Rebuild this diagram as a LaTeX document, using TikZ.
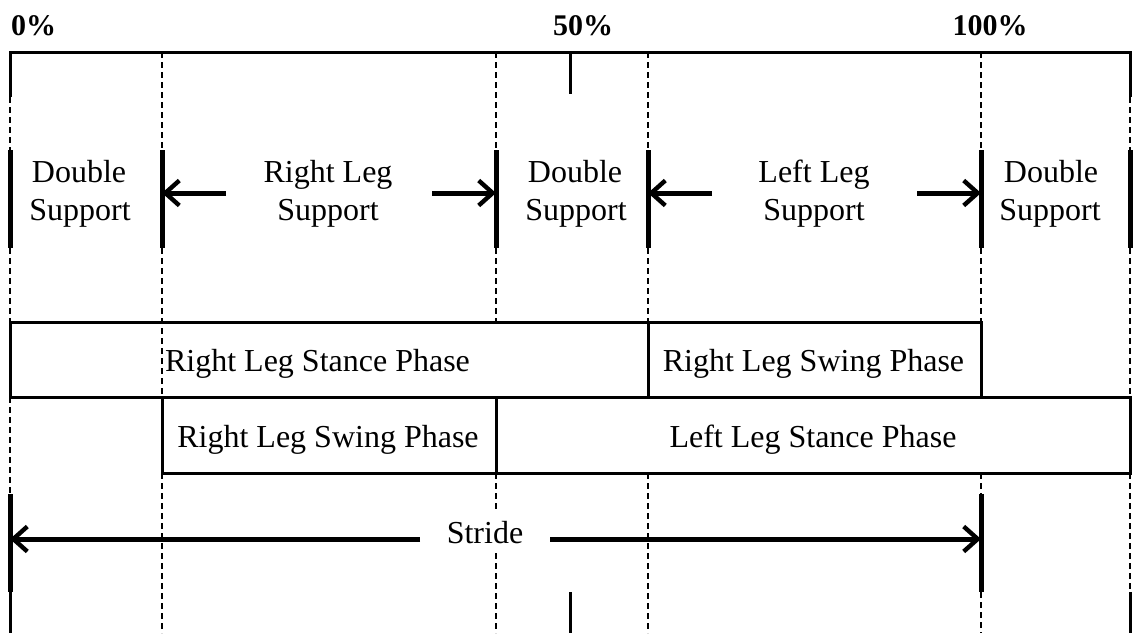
\documentclass[tikz,border=0pt]{standalone}
\usepackage{fontspec}
\setmainfont{Liberation Serif}
\usetikzlibrary{arrows.meta}
\begin{document}
\begin{tikzpicture}[x=1pt,y=-1pt,
  solidline/.style={line width=3pt, line cap=butt},
  bar/.style={line width=5pt, line cap=butt},
  dline/.style={line width=1.2pt, dash pattern=on 6pt off 4pt},
  arr/.style={line width=5pt, line cap=butt, -{Straight Barb[length=14pt,width=25pt,line width=4.4pt]}},
  lbl/.style={anchor=base, inner sep=0pt, font=\fontsize{32}{38}\selectfont},
  pct/.style={anchor=base, inner sep=0pt, font=\fontsize{30}{36}\selectfont\bfseries},
  phasebox/.style={draw, line width=3pt, inner sep=0pt, outer sep=0pt}
]
\useasboundingbox (0,0) rectangle (1133,633);

% ---------- percent labels ----------
\node[pct, anchor=base west] (p0) at (11,35) {0\%};
\node[pct] (p50) at (583,35) {50\%};
\node[pct] (p100) at (990,35) {100\%};

% ---------- top scale ----------
\coordinate (tl) at (10,97);
\coordinate (tlc) at (10,52);
\coordinate (trc) at (1130,52);
\coordinate (tr) at (1130,97);
\draw[solidline, line join=miter] (tl) -- (tlc) -- (trc) -- (tr);
\coordinate (mt1) at (570,52);
\coordinate (mt2) at (570,94);
\draw[solidline] (mt1) -- (mt2);

% ---------- bottom scale ticks ----------
\coordinate (bl1) at (10,592);  \coordinate (bl2) at (10,633);
\coordinate (bm1) at (570,592); \coordinate (bm2) at (570,633);
\coordinate (br1) at (1130,592);\coordinate (br2) at (1130,633);
\draw[solidline] (bl1) -- (bl2);
\draw[solidline] (bm1) -- (bm2);
\draw[solidline] (br1) -- (br2);

% ---------- dashed guide lines ----------
\draw[dline] (10,97) -- (10,150);
\draw[dline] (10,248) -- (10,322);
\draw[dline] (10,397) -- (10,495);

\draw[dline] (162,52) -- (162,150);
\draw[dline] (162,248) -- (162,397);
\draw[dline] (162,473) -- (162,633);

\draw[dline] (496,52) -- (496,150);
\draw[dline] (496,248) -- (496,322);
\draw[dline] (496,473) -- (496,633);

\draw[dline] (648,52) -- (648,150);
\draw[dline] (648,248) -- (648,322);
\draw[dline] (648,473) -- (648,633);

\draw[dline] (981,52) -- (981,150);
\draw[dline] (981,248) -- (981,322);
\draw[dline] (981,473) -- (981,494);
\draw[dline] (981,592) -- (981,633);

\draw[dline] (1130,97) -- (1130,150);
\draw[dline] (1130,248) -- (1130,397);
\draw[dline] (1130,473) -- (1130,592);

% ---------- thick bars (support phases) ----------
\foreach \n/\x in {a/10,b/162,c/496,d/648,e/981,f/1130}{
  \coordinate (bar\n t) at (\x,150);
  \coordinate (bar\n b) at (\x,248);
  \coordinate (bar\n m) at (\x,193);
  \draw[bar] (bar\n t) -- (bar\n b);
}

% ---------- support labels ----------
\node[lbl] (ds1a) at (79,182) {Double};
\node[lbl] (ds1b) at (80,220) {Support};
\node[lbl] (ds2a) at (575,182) {Double};
\node[lbl] (ds2b) at (576,220) {Support};
\node[lbl] (ds3a) at (1051,182) {Double};
\node[lbl] (ds3b) at (1050,220) {Support};

\node[lbl] (rlsa) at (328,182) {Right Leg};
\node[lbl] (rlsb) at (328,220) {Support};
\node[lbl] (llsa) at (814,182) {Left Leg};
\node[lbl] (llsb) at (814,220) {Support};

% ---------- support arrows ----------
\coordinate (ra1) at (226,193);
\coordinate (ra2) at (432,193);
\coordinate (la1) at (712,193);
\coordinate (la2) at (917,193);
\draw[arr] (ra1) -- (barbm);
\draw[arr] (ra2) -- (barcm);
\draw[arr] (la1) -- (bardm);
\draw[arr] (la2) -- (barem);

% ---------- phase boxes ----------
\node[phasebox, minimum width=638pt, minimum height=75pt] (rstance) at (329,359.5) {};
\node[phasebox, minimum width=333pt, minimum height=75pt] (rswing1) at (814.5,359.5) {};
\node[phasebox, minimum width=334pt, minimum height=76pt] (rswing2) at (329,435) {};
\node[phasebox, minimum width=634pt, minimum height=76pt] (lstance) at (813,435) {};

\node[lbl] (trst) at (317.5,371) {Right Leg Stance Phase};
\node[lbl] (trsw1) at (813.5,371) {Right Leg Swing Phase};
\node[lbl] (trsw2) at (328,447) {Right Leg Swing Phase};
\node[lbl] (tlst) at (813,447) {Left Leg Stance Phase};

% ---------- stride ----------
\coordinate (sat) at (10,494);  \coordinate (sab) at (10,592);
\coordinate (sbt) at (981,494); \coordinate (sbb) at (981,592);
\draw[bar] (sat) -- (sab);
\draw[bar] (sbt) -- (sbb);
\coordinate (sl) at (10,539);
\coordinate (sr) at (981,539);
\coordinate (s1) at (420,539);
\coordinate (s2) at (550,539);
\node[lbl, fill=white, inner xsep=4pt, inner ysep=8pt] (stride) at (485,543) {Stride};
\draw[arr] (s1) -- (sl);
\draw[arr] (s2) -- (sr);
\end{tikzpicture}
\end{document}
